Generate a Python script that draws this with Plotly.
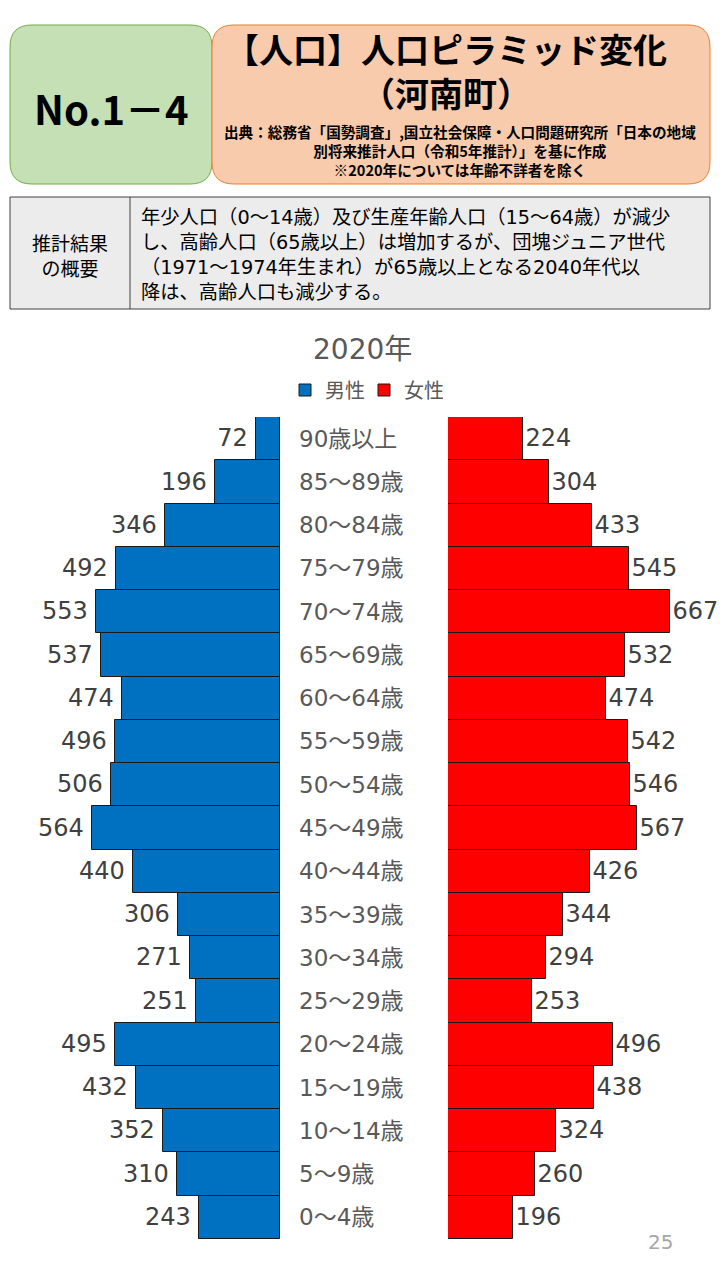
import plotly.graph_objects as go

# ---------------- data ----------------
ages = ["90歳以上", "85～89歳", "80～84歳", "75～79歳", "70～74歳", "65～69歳",
        "60～64歳", "55～59歳", "50～54歳", "45～49歳", "40～44歳", "35～39歳",
        "30～34歳", "25～29歳", "20～24歳", "15～19歳", "10～14歳", "5～9歳", "0～4歳"]
male = [72, 196, 346, 492, 553, 537, 474, 496, 506, 564, 440, 306, 271, 251, 495, 432, 352, 310, 243]
female = [224, 304, 433, 545, 667, 532, 474, 542, 546, 567, 426, 344, 294, 253, 496, 438, 324, 260, 196]

chart_title = "2020年"
series_names = ["男性", "女性"]
header_no = "No.1－4"
title_lines = ["【人口】人口ピラミッド変化", "（河南町）"]
source_lines = ["出典：総務省「国勢調査」,国立社会保障・人口問題研究所「日本の地域",
                "別将来推計人口（令和5年推計）」を基に作成",
                "※2020年については年齢不詳者を除く"]
summary_head = ["推計結果", "の概要"]
summary_lines = ["年少人口（0～14歳）及び生産年齢人口（15～64歳）が減少",
                 "し、高齢人口（65歳以上）は増加するが、団塊ジュニア世代",
                 "（1971～1974年生まれ）が65歳以上となる2040年代以",
                 "降は、高齢人口も減少する。"]
page_no = "25"

W, H = 720, 1280
JP = "Noto Sans CJK JP"
MIX = "DejaVu Sans, Noto Sans CJK JP"


def px(x):
    return x / W


def py(y):
    return 1 - y / H


def rounded_path(x0, y0, x1, y1, r):
    pts = [
        ("M", [(x0 + r, y0)]),
        ("L", [(x1 - r, y0)]),
        ("Q", [(x1, y0), (x1, y0 + r)]),
        ("L", [(x1, y1 - r)]),
        ("Q", [(x1, y1), (x1 - r, y1)]),
        ("L", [(x0 + r, y1)]),
        ("Q", [(x0, y1), (x0, y1 - r)]),
        ("L", [(x0, y0 + r)]),
        ("Q", [(x0, y0), (x0 + r, y0)]),
    ]
    s = ""
    for cmd, ps in pts:
        s += cmd + " " + " ".join(f"{px(a):.5f},{py(b):.5f}" for a, b in ps) + " "
    return s + "Z"


fig = go.Figure()

fig.add_trace(go.Bar(
    y=ages, x=male, orientation="h", name=series_names[0],
    xaxis="x", yaxis="y",
    marker=dict(color="#0070C0", line=dict(color="#1a1a1a", width=1)),
    texttemplate="%{x}\u2009", textposition="outside", constraintext="none",
    textfont=dict(family=MIX, size=24, color="#404040"), cliponaxis=False,
    hoverinfo="skip",
))
fig.add_trace(go.Bar(
    y=ages, x=female, orientation="h", name=series_names[1],
    xaxis="x2", yaxis="y2",
    marker=dict(color="#FF0000", line=dict(color="#1a1a1a", width=1)),
    texttemplate="%{x}", textposition="outside", constraintext="none",
    textfont=dict(family=MIX, size=24, color="#404040"), cliponaxis=False,
    hoverinfo="skip",
))

ydom = [py(1239), py(417)]
shapes = []
# header boxes
shapes.append(dict(type="path", xref="paper", yref="paper",
                   path=rounded_path(10, 25, 212, 184, 22),
                   fillcolor="#C5E0B4", line=dict(color="#70AD47", width=1), layer="below"))
shapes.append(dict(type="path", xref="paper", yref="paper",
                   path=rounded_path(212, 25, 710, 184, 22),
                   fillcolor="#F8CBAD", line=dict(color="#ED7D31", width=1), layer="below"))
# summary table
shapes.append(dict(type="rect", xref="paper", yref="paper",
                   x0=px(10), x1=px(710), y0=py(309), y1=py(197),
                   fillcolor="#ECECEC", line=dict(color="#404040", width=1), layer="below"))
shapes.append(dict(type="line", xref="paper", yref="paper",
                   x0=px(130), x1=px(130), y0=py(309), y1=py(197),
                   line=dict(color="#404040", width=1), layer="below"))

ann = []
ann.append(dict(text=header_no, x=px(111), y=py(108), xref="paper", yref="paper",
                showarrow=False, xanchor="center", yanchor="middle",
                font=dict(family=JP, size=40, color="#000000", weight="bold")))
ann.append(dict(text="<br>".join(title_lines), x=px(446), y=py(70), xref="paper", yref="paper",
                showarrow=False, xanchor="center", yanchor="middle",
                font=dict(family=JP, size=34, color="#000000", weight="bold")))
ann.append(dict(text="<br>".join(source_lines), x=px(460), y=py(150), xref="paper", yref="paper",
                showarrow=False, xanchor="center", yanchor="middle",
                font=dict(family=JP, size=14.6, color="#000000", weight="bold")))
ann.append(dict(text="<br>".join(summary_head), x=px(70), y=py(255), xref="paper", yref="paper",
                showarrow=False, xanchor="center", yanchor="middle",
                font=dict(family=JP, size=19, color="#000000")))
ann.append(dict(text="<br>".join(summary_lines), x=px(139), y=py(255), xref="paper", yref="paper",
                showarrow=False, xanchor="left", yanchor="middle", align="left",
                font=dict(family=MIX, size=19.3, color="#000000")))
ann.append(dict(text=chart_title, x=px(362), y=py(349), xref="paper", yref="paper",
                showarrow=False, xanchor="center", yanchor="middle",
                font=dict(family=MIX, size=28, color="#595959")))
for a in ages:
    ann.append(dict(text=a, x=px(297), y=a, xref="paper", yref="y",
                    showarrow=False, xanchor="left", yanchor="middle",
                    font=dict(family=MIX, size=23, color="#595959")))
ann.append(dict(text=page_no, x=px(660), y=py(1242), xref="paper", yref="paper",
                showarrow=False, xanchor="center", yanchor="middle",
                font=dict(family=MIX, size=20, color="#A6A6A6")))

fig.update_layout(
    width=W, height=H,
    margin=dict(l=0, r=0, t=0, b=0),
    paper_bgcolor="white", plot_bgcolor="rgba(0,0,0,0)",
    bargap=0,
    showlegend=True,
    legend=dict(orientation="h", x=px(364), xanchor="center", y=py(390), yanchor="middle",
                font=dict(family=JP, size=20, color="#595959"),
                itemwidth=30, entrywidth=34, entrywidthmode="pixels",
                tracegroupgap=0, bgcolor="rgba(0,0,0,0)"),
    xaxis=dict(domain=[0, px(280)], range=[840, 0], visible=False, fixedrange=True),
    xaxis2=dict(domain=[px(448), 1], range=[0, 817], visible=False, fixedrange=True),
    yaxis=dict(domain=ydom, anchor="x", visible=False, autorange=False, range=[18.5, -0.5],
               categoryorder="array", categoryarray=ages),
    yaxis2=dict(domain=ydom, anchor="x2", visible=False, autorange=False, range=[18.5, -0.5],
                categoryorder="array", categoryarray=ages, matches="y"),
    shapes=shapes,
    annotations=ann,
    font=dict(family=JP),
)

fig.write_html("out.html", config={"displayModeBar": False},
               post_script="document.body.style.margin='0';document.body.style.padding='0';")
